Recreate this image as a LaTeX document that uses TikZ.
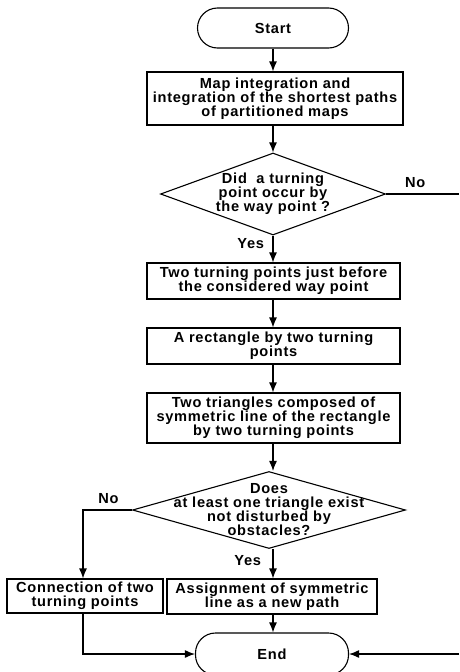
\documentclass[tikz,border=0pt]{standalone}
\usepackage{fontspec}
\setmainfont{Liberation Sans}[LetterSpace=5]
\usetikzlibrary{shapes.geometric,arrows.meta}

\begin{document}
\begin{tikzpicture}[x=1pt,y=-1pt,font=\fontsize{14.6}{14}\selectfont\bfseries]
\tikzset{
% Three node styles for the chart: terminal, process and decision
term/.style={draw,line width=1.1pt,rounded corners=20pt,minimum width=151pt,minimum height=40pt,inner sep=0},
proc/.style={draw,line width=1.1pt,align=center,inner sep=0},
dec/.style={draw,line width=1.1pt,diamond,inner sep=0},
flow/.style={line width=1.2pt,-{Latex[length=10pt,width=8pt]}},
line/.style={line width=1.2pt}
}
\useasboundingbox (0,0) rectangle (459,672);

% The main column
\node(0)[term] at (273,28) {Start};
\node(1)[proc,minimum width=256pt,minimum height=53pt] at (275,98.5) {Map integration and\\ integration of the shortest paths\\ of partitioned maps};
\node(2)[dec,minimum width=225pt,minimum height=82pt,label={[align=center]center:{Did\ \ a turning\\ point occur by\\ the way point ?}}] at (273,194) {};
\node(3)[proc,minimum width=253pt,minimum height=36pt] at (273.5,281) {Two turning points just before\\ the considered way point};
\node(4)[proc,minimum width=253pt,minimum height=36pt] at (273.5,346) {A rectangle by two turning\\ points};
\node(5)[proc,minimum width=253pt,minimum height=50pt] at (273.5,418) {Two triangles composed of\\ symmetric line of the rectangle\\ by two turning points};
\node(6)[dec,minimum width=273pt,minimum height=77pt,label={[align=center]center:{Does\\ at least one triangle exist\\ not disturbed by\\ obstacles?}}] at (269,510) {};
\node(7)[proc,minimum width=156pt,minimum height=34pt] at (85,596) {Connection of two\\ turning points};
\node(8)[proc,minimum width=210pt,minimum height=35pt] at (272,596.5) {Assignment of symmetric\\ line as a new path};
\node(9)[term,minimum width=153pt,minimum height=42pt] at (272,654) {End};

% free ends at the right border
\coordinate (r1) at (459,194);
\coordinate (r2) at (459,654);

% Arrows
\draw[flow] (0) -- (0 |- 1.north);
\draw[flow] (1.south -| 0) -- (2);
\draw[flow] (2) -- (2 |- 3.north) node[pos=.3,left=5pt]{Yes};
\draw[flow] (3.south -| 2) -- (4.north -| 2);
\draw[flow] (4.south -| 2) -- (5.north -| 2);
\draw[flow] (5.south -| 2) -- (6.north -| 2);
\draw[flow] (6.south -| 2) -- (8.north -| 2) node[pos=.4,left=8pt]{Yes};
\draw[flow] (8.south -| 2) -- (9.north -| 2);
\draw[flow] (6.west) -| (7.north -| 83,0) node[pos=.24,above=2pt]{No};
\draw[flow] (7.south -| 83,0) |- (9.west);
\draw[line] (2.east) -- (r1) node[pos=.4,above=2pt]{No};
\draw[flow] (r2) -- (9.east);
\end{tikzpicture}
\end{document}
